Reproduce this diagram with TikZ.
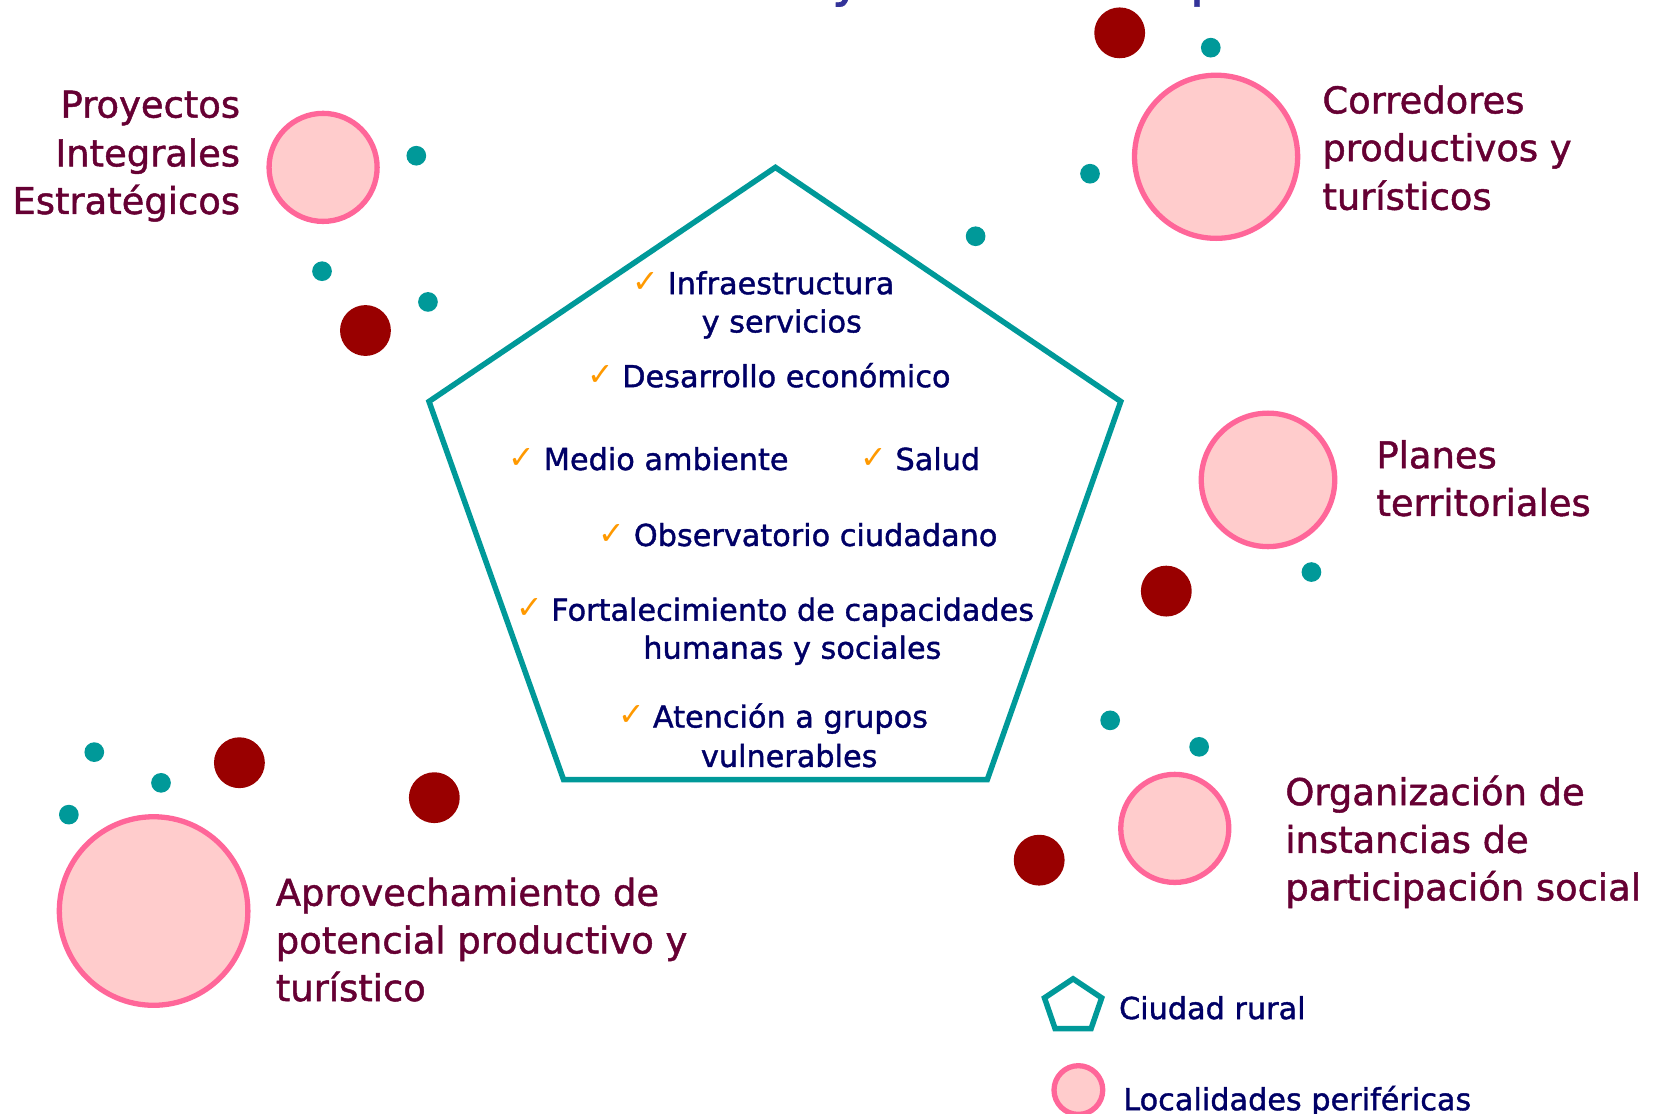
\documentclass[tikz,border=0pt]{standalone}
\usepackage{fontspec}
\setmainfont{DejaVu Sans}
\newfontfamily\heavyfont{DejaVu Sans}[FakeBold=1.3]
\definecolor{maroon}{HTML}{660033}
\definecolor{navy}{HTML}{000066}
\definecolor{tealc}{HTML}{009999}
\definecolor{dred}{HTML}{990000}
\definecolor{pinkfill}{HTML}{FFCCCC}
\definecolor{pinkline}{HTML}{FF6699}
\definecolor{chkorange}{HTML}{FF9900}
\definecolor{titleblue}{HTML}{333399}
\begin{document}
\begin{tikzpicture}[x=0.5pt,y=-0.5pt,
  loc/.style={draw=pinkline,fill=pinkfill,line width=2.5pt},
  tdot/.style={fill=tealc},
  rdot/.style={fill=dred},
  lbl/.style={text=maroon,font=\heavyfont\fontsize{17.4}{20}\selectfont,inner sep=0},
  itm/.style={text=navy,font=\heavyfont\fontsize{14.3}{17}\selectfont,inner sep=0},
  chk/.style={text=chkorange,font=\fontsize{15}{17}\selectfont,inner sep=0,anchor=base west},
  ttl/.style={text=titleblue,font=\heavyfont\fontsize{24}{28}\selectfont,inner sep=0,anchor=base west}]
\useasboundingbox (0,0) rectangle (1568,1051);

% title fragments (cut off at top)
\node[ttl] (ttl1) at (785,-3.8) {y};
\node[ttl] (ttl2) at (1123,-3.7) {p};

% central pentagon
\draw[tealc,line width=2.6pt,line join=miter] (732,158) -- (1058,379) -- (932,736) -- (532,736) -- (405,379) -- cycle;

% localities
\draw[loc] (305,158) circle (51);
\draw[loc] (1148,148) circle (77);
\draw[loc] (1197,453) circle (63);
\draw[loc] (1109,782) circle (51);
\draw[loc] (145,860) circle (89);

% dark red dots
\foreach \p in {(1057,31),(345,312),(226,720),(410,753),(1101,558),(981,812)}
  \fill[rdot] \p circle (24);
% teal dots
\foreach \p in {(1143,45),(393,147),(1029,164),(921,223),(304,256),(404,285),(1238,540),(89,710),(152,739),(65,769),(1048,680),(1132,705)}
  \fill[tdot] \p circle (9.3);

% outer labels
\node[lbl,anchor=base east] (pie1) at (227,111) {Proyectos};
\node[lbl,anchor=base east] (pie2) at (227,157) {Integrales};
\node[lbl,anchor=base east] (pie3) at (227,202) {Estratégicos};

\node[lbl,anchor=base west] (cor1) at (1248,107) {Corredores};
\node[lbl,anchor=base west] (cor2) at (1248,152) {productivos y};
\node[lbl,anchor=base west] (cor3) at (1248,198) {turísticos};

\node[lbl,anchor=base west] (pla1) at (1299,442) {Planes};
\node[lbl,anchor=base west] (pla2) at (1299,487) {territoriales};

\node[lbl,anchor=base west] (org1) at (1213,760) {Organización de};
\node[lbl,anchor=base west] (org2) at (1213,805) {instancias de};
\node[lbl,anchor=base west] (org3) at (1213,850) {participación social};

\node[lbl,anchor=base west] (apr1) at (260,855) {Aprovechamiento de};
\node[lbl,anchor=base west] (apr2) at (260,900) {potencial productivo y};
\node[lbl,anchor=base west] (apr3) at (260,945) {turístico};

% items inside the pentagon
\node[chk] (c1) at (597,276) {✓};
\node[itm,anchor=base west] (i1) at (630,277.7) {Infraestructura};
\node[itm,anchor=base] (i1b) at (738,313.8) {y servicios};
\node[chk] (c2) at (554,364) {✓};
\node[itm,anchor=base west] (i2) at (587,365.5) {Desarrollo económico};
\node[chk] (c3) at (480,442) {✓};
\node[itm,anchor=base west] (i3) at (513,443.7) {Medio ambiente};
\node[chk] (c4) at (812,442) {✓};
\node[itm,anchor=base west] (i4) at (845,443.7) {Salud};
\node[chk] (c5) at (565,514) {✓};
\node[itm,anchor=base west] (i5) at (598,515.4) {Observatorio ciudadano};
\node[chk] (c6) at (487,584) {✓};
\node[itm,anchor=base west] (i6) at (520,585.9) {Fortalecimiento de capacidades};
\node[itm,anchor=base] (i6b) at (748,621.8) {humanas y sociales};
\node[chk] (c7) at (583,685) {✓};
\node[itm,anchor=base west] (i7) at (616,686.8) {Atención a grupos};
\node[itm,anchor=base] (i7b) at (745,724) {vulnerables};

% legend
\draw[tealc,line width=2.6pt,line join=miter] (1013,924) -- (1040,942) -- (1030,971) -- (996,971) -- (986,942) -- cycle;
\node[itm,anchor=base west] (leg1) at (1056,962) {Ciudad rural};
\draw[loc] (1018,1029) circle (23);
\node[itm,anchor=base west] (leg2) at (1060,1048) {Localidades periféricas};
\end{tikzpicture}
\end{document}
